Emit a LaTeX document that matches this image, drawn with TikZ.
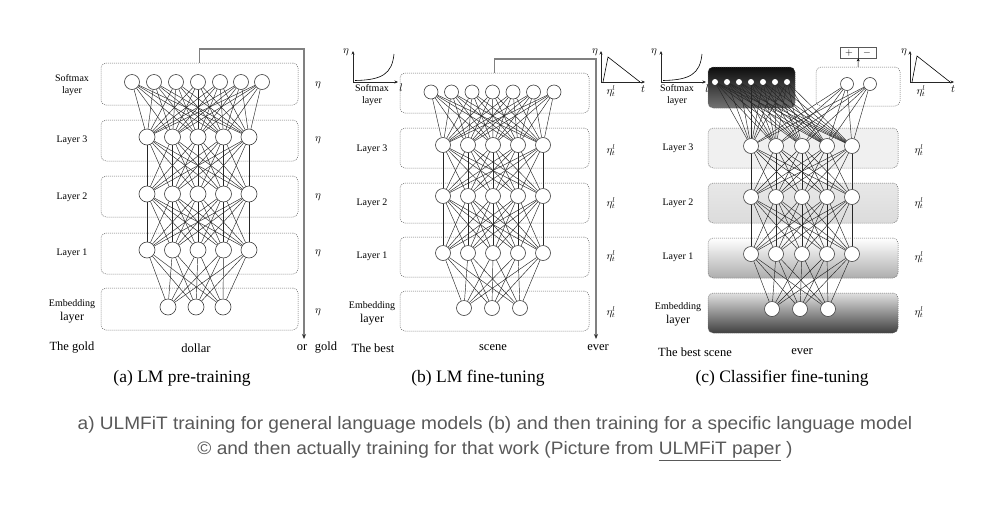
\documentclass[tikz,border=0pt]{standalone}
\usepackage{fontspec}
\setmainfont{Liberation Serif}
\newfontfamily\capfont[FakeStretch=1.06]{Liberation Sans}
\usetikzlibrary{arrows.meta}

\begin{document}
\begin{tikzpicture}[x=1pt,y=-1pt,
	unit/.style={draw=black!75, circle, line width=0.6pt, minimum size=15pt, inner sep=0pt, fill=white},
	dot/.style={circle, fill=white, minimum size=6pt, inner sep=0pt},
	wire/.style={draw=black!85, line width=0.45pt},
	layerbox/.style={draw=black!60, dash pattern=on 1pt off 1pt, rounded corners=5pt, line width=0.5pt, minimum height=40pt, inner sep=0pt},
	lbl/.style={font=\fontsize{10}{11}\selectfont, align=center},
	word/.style={font=\fontsize{12.5}{14}\selectfont},
	title/.style={font=\fontsize{17.5}{19}\selectfont},
	rate/.style={font=\fontsize{10.5}{11}\selectfont, inner sep=1pt},
	flow/.style={draw=black!50, line width=1.3pt, -{Stealth[length=5pt,width=4pt,color=black!80]}},
	axis/.style={draw=black!85, line width=0.6pt, -{Stealth[length=3.5pt,width=3pt]}}]

	\fill[white] (0,0) rectangle (1002,512);
	\useasboundingbox (0,0) rectangle (1002,512);

	% (a) LM pre-training
	\node[layerbox, minimum width=197pt, minimum height=42pt] (a-boxs) at (199.5,84) {};
	\node[layerbox, minimum width=197pt, minimum height=41pt] (a-box3) at (199.5,140.5) {};
	\node[layerbox, minimum width=197pt, minimum height=41pt] (a-box2) at (199.5,196.5) {};
	\node[layerbox, minimum width=197pt, minimum height=41pt] (a-box1) at (199.5,253.5) {};
	\node[layerbox, minimum width=197pt, minimum height=42pt] (a-boxe) at (199.5,309) {};

	\foreach \x [count=\i] in {132,154,176,198,220,241,262}
		\node[unit] (as-\i) at (\x,82) {};
	\foreach \y/\l in {137/3,194/2,250/1}
		\foreach \x [count=\i] in {147,172.5,198,223.5,249}
			\node[unit, minimum size=16pt] (a\l-\i) at (\x,\y) {};
	\foreach \x [count=\i] in {168,196,223}
		\node[unit, minimum size=16pt] (ae-\i) at (\x,307) {};

	\foreach \i in {1,...,7} \foreach \j in {1,...,5} \path[wire] (as-\i) edge (a3-\j);
	\foreach \i in {1,...,5} \foreach \j in {1,...,5} {
		\path[wire] (a3-\i) edge (a2-\j);
		\path[wire] (a2-\i) edge (a1-\j);
	}
	\foreach \i in {1,...,5} \foreach \j in {1,...,3} \path[wire] (a1-\i) edge (ae-\j);

	\node[lbl] (a-ls) at (72,85) {Softmax\\[1pt]layer};
	\node[lbl] (a-l3) at (72,140) {Layer 3};
	\node[lbl] (a-l2) at (72,197) {Layer 2};
	\node[lbl] (a-l1) at (72,253) {Layer 1};
	\node[lbl] (a-le) at (72,304) {Embedding};
	\node[lbl, font=\fontsize{12}{13}\selectfont] (a-le2) at (72,318) {layer};
	\foreach \y [count=\i] in {85,140,197,253,312}
		\node[rate] (a-r\i) at (318,\y) {$\eta$};

	\coordinate (a-top) at (304,49);
	\coordinate (a-end) at (304,339);
	\draw[flow] (a-boxs.north) |- (a-top) -- (a-end);

	\node[word] (a-w1) at (72,348) {The gold};
	\node[word] (a-w2) at (196,348) {dollar};
	\node[word] (a-w3) at (302,348) {or};
	\node[word] (a-w4) at (326,348) {gold};
	\node[title] (a-cap) at (182,378) {(a) LM pre-training};

	% (b) LM fine-tuning
	\node[layerbox, minimum width=189pt] (b-boxs) at (494.5,93) {};
	\node[layerbox, minimum width=189pt] (b-box3) at (494.5,148) {};
	\node[layerbox, minimum width=189pt] (b-box2) at (494.5,203) {};
	\node[layerbox, minimum width=189pt] (b-box1) at (494.5,257) {};
	\node[layerbox, minimum width=189pt] (b-boxe) at (494.5,311) {};

	\foreach \x [count=\i] in {431,451.5,472,492.5,513,533.5,554}
		\node[unit, minimum size=14pt] (bs-\i) at (\x,92) {};
	\foreach \y/\l in {145/3,196/2,253/1}
		\foreach \x [count=\i] in {443,468,493,518,543}
			\node[unit] (b\l-\i) at (\x,\y) {};
	\foreach \x [count=\i] in {464,492,520}
		\node[unit] (be-\i) at (\x,308) {};

	\foreach \i in {1,...,7} \foreach \j in {1,...,5} \path[wire] (bs-\i) edge (b3-\j);
	\foreach \i in {1,...,5} \foreach \j in {1,...,5} {
		\path[wire] (b3-\i) edge (b2-\j);
		\path[wire] (b2-\i) edge (b1-\j);
	}
	\foreach \i in {1,...,5} \foreach \j in {1,...,3} \path[wire] (b1-\i) edge (be-\j);

	\node[lbl] (b-ls) at (372,95) {Softmax\\[1pt]layer};
	\node[lbl] (b-l3) at (372,149) {Layer 3};
	\node[lbl] (b-l2) at (372,203) {Layer 2};
	\node[lbl] (b-l1) at (372,256) {Layer 1};
	\node[lbl] (b-le) at (372,306) {Embedding};
	\node[lbl, font=\fontsize{12}{13}\selectfont] (b-le2) at (372,320) {layer};
	\foreach \y [count=\i] in {150,203,256,312}
		\node[rate] (b-r\i) at (611,\y) {$\eta^l_t$};

	\coordinate (b-top) at (596,59);
	\coordinate (b-end) at (596,339);
	\draw[flow] (b-boxs.north) |- (b-top) -- (b-end);

	% slanted schedule curves
	\draw[axis] (353,82) -- (353,51);
	\draw[axis] (353,82) -- (398,82);
	\draw[line width=0.6pt] (355,80.5) .. controls (382,80) and (392,74) .. (394,54);
	\node[rate] (b-ey) at (346,52) {$\eta$};
	\node[rate] (b-ex) at (401,88) {$l$};
	\draw[axis] (601,82) -- (601,51);
	\draw[axis] (601,82) -- (645,82);
	\draw[line width=0.6pt] (603,82) -- (608,57) -- (640,82);
	\node[rate] (b-ty) at (595,52) {$\eta$};
	\node[rate] (b-tx) at (643,89) {$t$};
	\node[rate] (b-tr) at (611,91) {$\eta^l_t$};

	\node[word] (b-w1) at (373,348) {The best};
	\node[word] (b-w2) at (493,348) {scene};
	\node[word] (b-w3) at (598,348) {ever};
	\node[title] (b-cap) at (478,378) {(b) LM fine-tuning};

	% (c) Classifier fine-tuning
	\node[layerbox, minimum width=87pt, minimum height=41pt, top color=black!95, bottom color=black!55] (c-boxs) at (751.5,87.5) {};
	\node[layerbox, minimum width=84pt, minimum height=39pt] (c-boxc) at (858,86.5) {};
	\node[layerbox, minimum width=190pt, fill=black!6] (c-box3) at (803,148) {};
	\node[layerbox, minimum width=190pt, top color=black!9, bottom color=black!14] (c-box2) at (803,203) {};
	\node[layerbox, minimum width=190pt, top color=white, bottom color=black!32] (c-box1) at (803,258) {};
	\node[layerbox, minimum width=190pt, top color=black!12, bottom color=black!75] (c-boxe) at (803,313) {};

	\foreach \x [count=\i] in {715,727,739,751,763,775,787}
		\node[dot] (cs-\i) at (\x,82) {};
	\node[unit, minimum size=13pt] (cc-1) at (847,84) {};
	\node[unit, minimum size=13pt] (cc-2) at (870,84) {};
	\foreach \y/\l in {146/3,197/2,254/1}
		\foreach \x [count=\i] in {751,776,802,827,852}
			\node[unit] (c\l-\i) at (\x,\y) {};
	\foreach \x [count=\i] in {772,800,828}
		\node[unit] (ce-\i) at (\x,309) {};

	\foreach \i in {1,...,7} \foreach \j in {1,...,5} \path[wire] (cs-\i) edge (c3-\j);
	\foreach \i in {1,2} \foreach \j in {1,...,5} \path[wire] (cc-\i) edge (c3-\j);
	\foreach \i in {1,...,5} \foreach \j in {1,...,5} {
		\path[wire] (c3-\i) edge (c2-\j);
		\path[wire] (c2-\i) edge (c1-\j);
	}
	\foreach \i in {1,...,5} \foreach \j in {1,...,3} \path[wire] (c1-\i) edge (ce-\j);

	\node[draw=black!65, line width=0.6pt, minimum width=18pt, minimum height=11pt, inner sep=0pt] (plus) at (849,52.5) {$+$};
	\node[draw=black!65, line width=0.6pt, minimum width=18pt, minimum height=11pt, inner sep=0pt] (minus) at (867,52.5) {$-$};
	\draw[-{Stealth[length=3pt,width=3pt]}, line width=0.5pt] (c-boxc.north) -- (plus.south east);

	\node[lbl] (c-ls) at (677,95) {Softmax\\[1pt]layer};
	\node[lbl] (c-l3) at (678,148) {Layer 3};
	\node[lbl] (c-l2) at (678,203) {Layer 2};
	\node[lbl] (c-l1) at (678,257) {Layer 1};
	\node[lbl] (c-le) at (678,307) {Embedding};
	\node[lbl, font=\fontsize{12}{13}\selectfont] (c-le2) at (678,321) {layer};
	\foreach \y [count=\i] in {150,203,257,312}
		\node[rate] (c-r\i) at (919,\y) {$\eta^l_t$};

	\draw[axis] (661,82) -- (661,51);
	\draw[axis] (661,82) -- (706,82);
	\draw[line width=0.6pt] (663,80.5) .. controls (690,80) and (700,74) .. (702,54);
	\node[rate] (c-ey) at (654,52) {$\eta$};
	\node[rate] (c-ex) at (707,89) {$l$};
	\draw[axis] (910,82) -- (910,51);
	\draw[axis] (910,82) -- (954,82);
	\draw[line width=0.6pt] (912,82) -- (917,56) -- (950,82);
	\node[rate] (c-ty) at (904,52) {$\eta$};
	\node[rate] (c-tx) at (953,89) {$t$};
	\node[rate] (c-tr) at (921,91) {$\eta^l_t$};

	\node[word] (c-w1) at (695,352) {The best scene};
	\node[word] (c-w2) at (802,352) {ever};
	\node[title] (c-cap) at (782,378) {(c) Classifier fine-tuning};

	% caption below
	\node[font=\capfont\fontsize{18}{20}\selectfont, text=black!65] (cap1) at (495,425)
		{a) ULMFiT training for general language models (b) and then training for a specific language model};
	\node[font=\capfont\fontsize{18}{20}\selectfont, text=black!65] (cap2) at (495,451)
		{© and then actually training for that work (Picture from \underline{ULMFiT paper} )};
\end{tikzpicture}
\end{document}
